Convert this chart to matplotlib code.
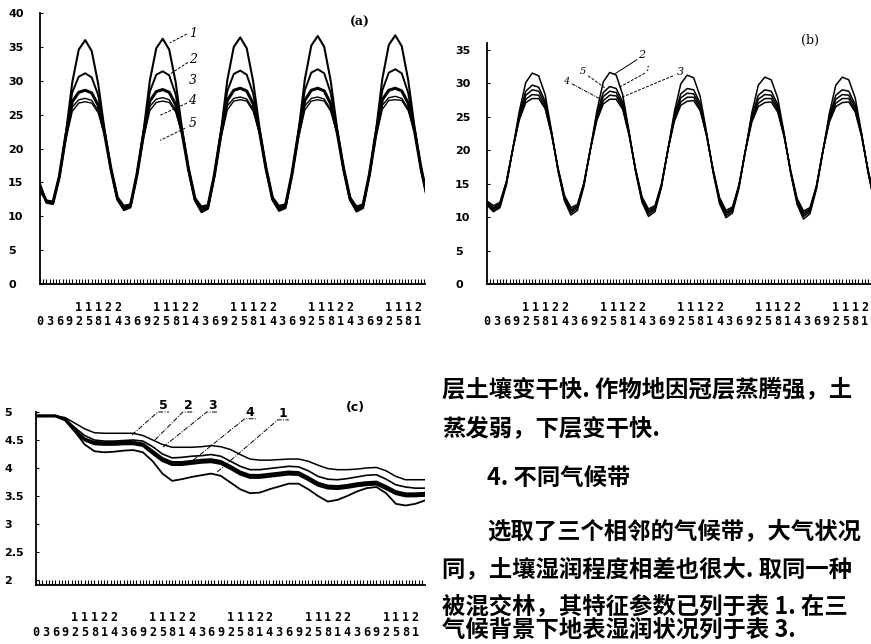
import numpy as np
import matplotlib
matplotlib.use('Agg')
import matplotlib.pyplot as plt

# ---- data ------------------------------------------------------------------
# panels (a),(b): surface temperature, sampled every 2 h over 5 days
hours_ab = np.arange(0, 121, 2)
a1 = [14.8, 12.0, 11.8, 15.8, 22.2, 29.8, 34.6, 36.0, 34.4, 29.6, 22.7, 16.8,
      12.4, 10.9, 11.3, 16.0, 22.3, 30.0, 34.8, 36.2, 34.6, 29.8, 22.8, 16.8,
      12.3, 10.6, 11.1, 16.0, 22.4, 30.1, 35.0, 36.4, 34.8, 29.9, 22.9, 16.9,
      12.4, 10.8, 11.2, 16.1, 22.4, 30.2, 35.2, 36.6, 35.0, 30.0, 22.9, 16.9,
      12.4, 10.7, 11.2, 16.1, 22.5, 30.3, 35.3, 36.7, 35.1, 30.1, 23.0, 16.9, 12.4]
a2 = [14.5, 12.1, 11.9, 15.9, 22.1, 28.3, 30.6, 31.1, 30.5, 27.9, 22.5, 16.8,
      12.5, 11.1, 11.5, 16.1, 22.2, 28.4, 30.9, 31.4, 30.8, 28.0, 22.6, 16.8,
      12.4, 10.9, 11.3, 16.1, 22.3, 28.5, 31.0, 31.5, 30.9, 28.1, 22.7, 16.9,
      12.5, 11.0, 11.4, 16.2, 22.3, 28.6, 31.2, 31.7, 31.1, 28.2, 22.7, 16.9,
      12.5, 10.9, 11.4, 16.2, 22.4, 28.6, 31.2, 31.7, 31.1, 28.2, 22.8, 16.9, 12.5]
a3 = [14.2, 12.2, 12.0, 15.9, 21.9, 26.9, 28.3, 28.6, 28.2, 26.4, 22.2, 16.9,
      12.6, 11.3, 11.6, 16.1, 22.0, 27.0, 28.4, 28.7, 28.3, 26.5, 22.3, 16.9,
      12.5, 11.1, 11.5, 16.1, 22.1, 27.1, 28.6, 28.9, 28.5, 26.6, 22.4, 17.0,
      12.6, 11.2, 11.6, 16.2, 22.1, 27.1, 28.6, 28.9, 28.5, 26.6, 22.4, 17.0,
      12.6, 11.1, 11.6, 16.2, 22.2, 27.2, 28.6, 28.9, 28.5, 26.7, 22.5, 17.0, 12.6]
a4 = [13.8, 12.3, 12.1, 15.8, 21.7, 26.1, 27.2, 27.4, 27.1, 25.6, 22.0, 17.0,
      12.7, 11.4, 11.7, 16.0, 21.8, 26.2, 27.3, 27.5, 27.2, 25.7, 22.1, 17.0,
      12.6, 11.3, 11.6, 16.0, 21.9, 26.3, 27.4, 27.6, 27.3, 25.8, 22.2, 17.1,
      12.7, 11.4, 11.7, 16.1, 21.9, 26.3, 27.4, 27.6, 27.3, 25.8, 22.2, 17.1,
      12.7, 11.3, 11.7, 16.1, 22.0, 26.4, 27.5, 27.7, 27.4, 25.9, 22.3, 17.1, 12.7]
a5 = [13.5, 12.4, 12.2, 15.6, 21.3, 25.5, 26.7, 26.9, 26.7, 25.3, 22.0, 17.2,
      12.9, 11.6, 11.8, 15.8, 21.4, 25.6, 26.8, 27.0, 26.8, 25.4, 22.1, 17.2,
      12.8, 11.5, 11.7, 15.8, 21.5, 25.7, 27.0, 27.2, 27.0, 25.5, 22.2, 17.3,
      12.9, 11.6, 11.8, 15.9, 21.5, 25.7, 27.0, 27.2, 27.0, 25.5, 22.2, 17.3,
      12.9, 11.5, 11.8, 15.9, 21.6, 25.8, 27.1, 27.2, 27.1, 25.6, 22.3, 17.3, 12.9]

b1 = [11.8, 10.8, 11.4, 14.8, 20.2, 25.8, 30.1, 31.5, 31.1, 28.3, 22.8, 16.9,
      12.4, 10.3, 11.0, 14.6, 20.1, 25.8, 30.2, 31.6, 31.2, 28.3, 22.8, 16.8,
      12.2, 10.1, 10.8, 14.4, 20.0, 25.7, 29.9, 31.2, 30.8, 28.0, 22.6, 16.7,
      12.0, 9.9, 10.6, 14.3, 19.9, 25.6, 29.7, 30.9, 30.5, 27.8, 22.5, 16.6,
      11.9, 9.7, 10.5, 14.2, 19.8, 25.5, 29.7, 30.9, 30.5, 27.8, 22.5, 16.6, 11.9]
b2 = [12.0, 11.0, 11.6, 15.0, 20.2, 25.4, 28.8, 29.7, 29.4, 27.3, 22.6, 17.0,
      12.6, 10.6, 11.3, 14.8, 20.1, 25.3, 28.6, 29.5, 29.2, 27.2, 22.5, 16.9,
      12.4, 10.4, 11.1, 14.6, 20.0, 25.2, 28.4, 29.2, 29.0, 27.0, 22.4, 16.8,
      12.3, 10.2, 10.9, 14.5, 19.9, 25.1, 28.2, 29.0, 28.8, 26.8, 22.3, 16.7,
      12.2, 10.1, 10.8, 14.4, 19.8, 25.1, 28.2, 29.0, 28.8, 26.8, 22.3, 16.7, 12.2]
b3 = [12.1, 11.2, 11.8, 15.1, 20.2, 25.1, 28.2, 29.0, 28.8, 26.9, 22.5, 17.1,
      12.8, 10.9, 11.5, 14.9, 20.1, 25.0, 28.0, 28.8, 28.6, 26.8, 22.4, 17.0,
      12.6, 10.7, 11.3, 14.7, 20.0, 24.9, 27.8, 28.5, 28.4, 26.6, 22.3, 16.9,
      12.5, 10.5, 11.1, 14.6, 19.9, 24.8, 27.6, 28.3, 28.2, 26.4, 22.2, 16.8,
      12.4, 10.4, 11.0, 14.5, 19.9, 24.8, 27.6, 28.3, 28.2, 26.4, 22.2, 16.8, 12.4]
b4 = [12.2, 11.4, 12.0, 15.2, 20.2, 24.8, 27.6, 28.3, 28.2, 26.5, 22.4, 17.2,
      13.0, 11.1, 11.7, 15.0, 20.1, 24.7, 27.4, 28.2, 28.1, 26.4, 22.3, 17.1,
      12.8, 10.9, 11.5, 14.8, 20.0, 24.6, 27.2, 27.9, 27.9, 26.2, 22.2, 17.0,
      12.7, 10.7, 11.3, 14.7, 19.9, 24.5, 27.0, 27.7, 27.7, 26.0, 22.1, 16.9,
      12.6, 10.6, 11.2, 14.6, 19.9, 24.5, 27.0, 27.7, 27.7, 26.0, 22.1, 16.9, 12.6]
b5 = [12.4, 11.7, 12.2, 15.3, 20.2, 24.5, 27.1, 27.7, 27.7, 26.2, 22.3, 17.3,
      13.2, 11.4, 11.9, 15.1, 20.1, 24.4, 26.9, 27.6, 27.6, 26.1, 22.2, 17.2,
      13.0, 11.2, 11.7, 14.9, 20.0, 24.3, 26.7, 27.3, 27.4, 25.9, 22.1, 17.1,
      12.9, 11.0, 11.5, 14.8, 19.9, 24.2, 26.5, 27.1, 27.2, 25.7, 22.0, 17.0,
      12.8, 10.9, 11.4, 14.7, 19.9, 24.2, 26.5, 27.1, 27.2, 25.7, 22.0, 17.0, 12.8]

# panel (c): soil moisture, sampled every 3 h
hours_c = np.arange(0, 121, 3)
c5 = [4.93, 4.93, 4.93, 4.90, 4.80, 4.70, 4.63, 4.62, 4.62, 4.62, 4.62, 4.58, 4.50, 4.42,
      4.37, 4.37, 4.37, 4.38, 4.40, 4.38, 4.33, 4.24, 4.16, 4.14, 4.14, 4.15, 4.16, 4.16,
      4.12, 4.05, 3.99, 3.97, 3.97, 3.98, 4.00, 4.01, 3.95, 3.85, 3.79, 3.79, 3.79]
c2 = [4.93, 4.93, 4.93, 4.88, 4.72, 4.58, 4.50, 4.48, 4.48, 4.49, 4.50, 4.48, 4.38, 4.25,
      4.18, 4.19, 4.21, 4.22, 4.24, 4.21, 4.12, 4.03, 3.97, 3.97, 3.99, 4.01, 4.03, 4.02,
      3.95, 3.85, 3.80, 3.79, 3.81, 3.84, 3.87, 3.88, 3.80, 3.70, 3.66, 3.64, 3.64]
c3 = [4.93, 4.93, 4.93, 4.87, 4.68, 4.52, 4.46, 4.45, 4.45, 4.46, 4.46, 4.43, 4.30, 4.17,
      4.10, 4.10, 4.12, 4.14, 4.15, 4.12, 4.03, 3.93, 3.87, 3.87, 3.89, 3.91, 3.93, 3.92,
      3.83, 3.73, 3.68, 3.67, 3.69, 3.72, 3.74, 3.75, 3.67, 3.58, 3.54, 3.54, 3.55]
c4 = [4.93, 4.93, 4.93, 4.86, 4.66, 4.50, 4.43, 4.42, 4.42, 4.43, 4.43, 4.40, 4.26, 4.13,
      4.06, 4.06, 4.08, 4.10, 4.11, 4.08, 3.99, 3.89, 3.83, 3.83, 3.85, 3.87, 3.89, 3.88,
      3.79, 3.69, 3.64, 3.63, 3.65, 3.68, 3.70, 3.71, 3.63, 3.54, 3.50, 3.50, 3.51]
c1 = [4.93, 4.93, 4.93, 4.88, 4.65, 4.42, 4.30, 4.28, 4.29, 4.31, 4.32, 4.28, 4.12, 3.90,
      3.77, 3.80, 3.84, 3.87, 3.90, 3.86, 3.74, 3.62, 3.55, 3.56, 3.62, 3.67, 3.72, 3.72,
      3.62, 3.50, 3.40, 3.43, 3.50, 3.58, 3.64, 3.66, 3.55, 3.36, 3.33, 3.36, 3.42]

# x tick labels: clock hour every 3 h
tick_hours = [0, 3, 6, 9, 12, 15, 18, 21, 24, 3, 6, 9, 12, 15, 18, 21, 24,
              3, 6, 9, 12, 15, 18, 21, 24, 3, 6, 9, 12, 15, 18, 21, 24,
              3, 6, 9, 12, 15, 18, 21]

text_lines = ["层土壤变干快. 作物地因冠层蒸腾强，土",
              "蒸发弱，下层变干快.",
              "4. 不同气候带",
              "选取了三个相邻的气候带，大气状况",
              "同，土壤湿润程度相差也很大. 取同一种",
              "被混交林，其特征参数已列于表 1. 在三",
              "气候背景下地表湿润状况列于表 3."]

# ---- figure ---------------------------------------------------------------
W, H = 871, 644
fig = plt.figure(figsize=(W/100, H/100), dpi=100)
fig.patch.set_facecolor('white')

def box(l, t, r, b):
    return [l/W, 1-b/H, (r-l)/W, (b-t)/H]

def style(ax, yticks, xpad):
    for s in ('top', 'right'):
        ax.spines[s].set_visible(False)
    for s in ('left', 'bottom'):
        ax.spines[s].set_linewidth(1.3)
    ax.set_xticks(np.arange(0, 118, 3))
    ax.set_xticks(np.arange(0, 120, 1), minor=True)
    labs = [f"{h//10 if h >= 10 else ' '}\n{h % 10}" for h in tick_hours]
    ax.set_xticklabels(labs, family='DejaVu Sans Mono', fontsize=8.5,
                       fontweight='bold', linespacing=1.15)
    ax.tick_params(axis='x', which='both', direction='in', length=3.5,
                   width=0.8, pad=xpad)
    ax.set_yticks(yticks)
    ax.tick_params(axis='y', direction='in', length=2, width=0.8, pad=23,
                   labelsize=8)
    for lab in ax.get_yticklabels():
        lab.set_horizontalalignment('left')
        lab.set_fontweight('bold')

def pointer(ax, tx, ty, x0, y0, x1, y1, label, ls=(0, (3, 1.5)), size=9):
    ax.plot([x0, x1], [y0, y1], color='k', lw=0.7, ls=ls, clip_on=False)
    ax.text(tx, ty, label, fontsize=size, family='DejaVu Serif',
            style='italic', ha='center', va='center', clip_on=False)

# (a)
ax = fig.add_axes(box(40, 13, 425, 284))
for y, lw in zip([a1, a2, a3, a4, a5], [1.5, 1.4, 2.2, 1.0, 1.0]):
    ax.plot(hours_ab, y, color='k', lw=lw, solid_joinstyle='round')
ax.set_xlim(0, 119.2); ax.set_ylim(0, 40)
style(ax, np.arange(0, 41, 5), 12)
ax.set_yticklabels([str(v) for v in range(0, 41, 5)], fontweight='bold')
pointer(ax, 47.4, 37.0, 45.5, 36.9, 40.2, 35.6, '1')
pointer(ax, 47.4, 33.2, 45.8, 32.7, 39.6, 30.8, '2')
ax.text(47.4, 30.1, '3', fontsize=9, family='DejaVu Serif', style='italic',
        ha='center', va='center')
pointer(ax, 47.1, 27.1, 45.5, 26.7, 37.2, 24.9, '4')
pointer(ax, 47.4, 23.7, 44.9, 23.0, 37.2, 21.2, '5')
fig.text(360/W, 1-22/H, '(a)', fontsize=9, family='DejaVu Serif',
         fontweight='bold', ha='center', va='center')

# (b)
ax = fig.add_axes(box(487, 43, 872, 284))
for y in [b1, b2, b3, b4, b5]:
    ax.plot(hours_ab, y, color='k', lw=1.1, solid_joinstyle='round')
ax.set_xlim(0, 119.2); ax.set_ylim(0, 36)
style(ax, np.arange(0, 36, 5), 12)
ax.set_yticklabels([str(v) for v in range(0, 36, 5)], fontweight='bold')
pointer(ax, 48.0, 34.2, 46.4, 33.5, 39.6, 31.4, '2', ls='-', size=8)
pointer(ax, 59.8, 31.7, 57.6, 31.1, 41.8, 27.9, '3', size=8)
pointer(ax, 49.5, 32.3, 48.9, 31.5, 40.6, 29.3, ':', size=8)
pointer(ax, 29.7, 31.7, 31.3, 31.1, 36.5, 29.3, '5', size=7)
pointer(ax, 24.5, 30.2, 26.3, 29.9, 35.6, 27.5, '4', ls=(0, (4, 1, 1, 1)), size=7)
fig.text(810/W, 1-40/H, '(b)', fontsize=9, family='DejaVu Serif',
         ha='center', va='center')

# (c)
ax = fig.add_axes(box(36, 412, 425, 585))
for y, lw in zip([c5, c2, c3, c4, c1], [1.1, 1.2, 2.0, 2.0, 1.3]):
    ax.plot(hours_c, y, color='k', lw=lw, solid_joinstyle='round')
ax.set_xlim(0, 120); ax.set_ylim(1.91, 5.0)
style(ax, [2, 2.5, 3, 3.5, 4, 4.5, 5], 19)
ax.set_yticklabels(['2', '2.5', '3', '3.5', '4', '4.5', '5'], fontweight='bold')
for lab, (tx, ty, x1, y1) in zip(['5', '2', '3', '4', '1'],
                                 [(39.2, 5.12, 29.6, 4.59), (46.9, 5.12, 36.7, 4.50),
                                  (54.3, 5.12, 39.2, 4.375), (66.0, 5.00, 48.5, 4.14),
                                  (76.2, 4.98, 55.9, 3.93)]):
    ax.text(tx, ty, lab, fontsize=9, fontweight='bold', ha='center', va='center',
            clip_on=False)
    ax.plot([x1, tx - 1.6, tx + 1.8], [y1, ty - 0.12, ty - 0.12], color='k',
            lw=0.7, ls=(0, (5, 1.5, 1, 1.5)), clip_on=False)
fig.text(355/W, 1-407/H, '(c)', fontsize=9, fontweight='bold',
         ha='center', va='center')

# body text of the page
ys = [390, 428, 478, 532, 570, 606, 630]
xs = [442, 442, 487, 487, 442, 442, 442]
for s, x, y in zip(text_lines, xs, ys):
    fig.text(x/W, 1-y/H, s, fontsize=16.8, fontweight='bold',
             family=['Noto Sans CJK SC', 'DejaVu Sans'], ha='left', va='center')

fig.savefig('out.png', dpi=100)
